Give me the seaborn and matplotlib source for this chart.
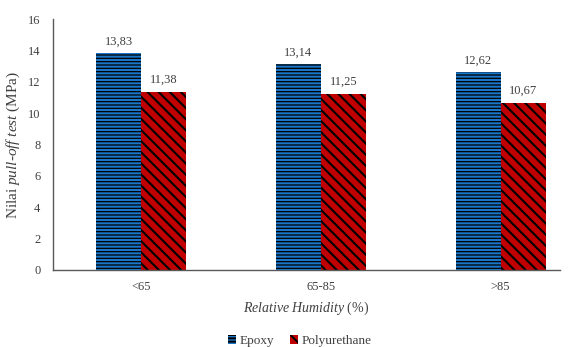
import matplotlib
matplotlib.use("Agg")
import matplotlib.pyplot as plt
import seaborn as sns
import pandas as pd
from matplotlib.patches import Patch

categories = ["<65", "65-85", ">85"]
series_names = ["Epoxy", "Polyurethane"]
epoxy = [13.83, 13.14, 12.62]
polyurethane = [11.38, 11.25, 10.67]
yticks = [0, 2, 4, 6, 8, 10, 12, 14, 16]

sns.set_theme(style="white")
plt.rcParams["font.family"] = ["Liberation Serif", "DejaVu Serif"]
plt.rcParams["mathtext.fontset"] = "custom"
plt.rcParams["mathtext.it"] = "Liberation Serif:italic"
plt.rcParams["mathtext.rm"] = "Liberation Serif"
plt.rcParams["hatch.linewidth"] = 1.4

df = pd.DataFrame({
    "RH": categories * 2,
    "value": epoxy + polyurethane,
    "series": [series_names[0]] * 3 + [series_names[1]] * 3,
})

colors = ["#1A75C8", "#C00000"]
hatches = ["-----", "\\\\\\"]
hlw = [0.9, 1.5]

fig = plt.figure(figsize=(5.69, 3.47), dpi=100)
ax = fig.add_axes([0.093, 0.222, 0.891, 0.723])
sns.barplot(data=df, x="RH", y="value", hue="series", palette=colors,
            width=0.5, ax=ax, legend=False, errorbar=None, saturation=1)

for cont, h, c, lw in zip(ax.containers, hatches, colors, hlw):
    for p in cont:
        p.set_hatch(h)
        p.set_edgecolor("black")
        p.set_linewidth(0)
        try:
            p.set_hatch_linewidth(lw)
        except Exception:
            pass
    ax.bar_label(cont, labels=[f"{v:.2f}".replace(".", ",") for v in cont.datavalues],
                 padding=4, fontsize=9, color="#404040")

ax.set_ylim(0, 16)
ax.set_yticks(yticks)
ax.set_xlim(-0.49, 2.33)
ax.tick_params(axis="both", labelsize=9, colors="#404040", length=0)
ax.tick_params(axis="x", pad=8)
ax.tick_params(axis="y", pad=9)
ax.set_xlabel(r"$\mathit{Relative\ Humidity}$ (%)", fontsize=10, color="#404040", labelpad=5)
ax.set_ylabel(r"Nilai $\mathit{pull}$-$\mathit{off\ test}$ (MPa)", fontsize=11, color="#404040", labelpad=4)
for s in ["top", "right"]:
    ax.spines[s].set_visible(False)
for s in ["left", "bottom"]:
    ax.spines[s].set_color("#595959")
    ax.spines[s].set_linewidth(1.0)

handles = [Patch(facecolor=c, edgecolor="black", hatch=h, linewidth=0) for c, h in zip(colors, hatches)]
fig.legend(handles, series_names, loc="center", bbox_to_anchor=(0.527, 0.017), ncol=2,
           frameon=False, fontsize=9.5, handlelength=0.6, handleheight=0.6,
           handletextpad=0.3, columnspacing=1.2, labelcolor="#404040")

fig.savefig("out.png", dpi=100)
